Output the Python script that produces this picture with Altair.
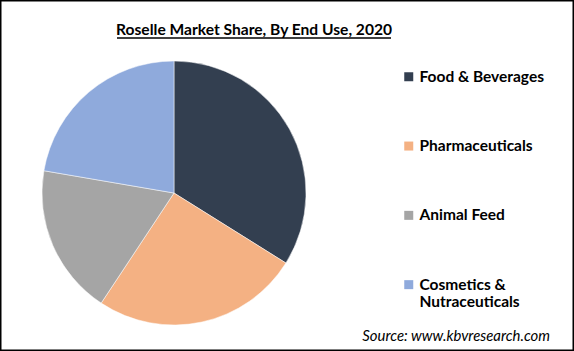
import altair as alt
import pandas as pd

categories = ["Food & Beverages", "Pharmaceuticals", "Animal Feed", "Cosmetics & Nutraceuticals"]
shares = [33.9, 25.4, 18.4, 22.3]
colors = ["#333F50", "#F4B183", "#A5A5A5", "#8FAADC"]
title_text = "Roselle  Market Share, By End Use, 2020"
source_text = "Source: www.kbvresearch.com"

df = pd.DataFrame({"category": categories, "share": shares, "order": list(range(len(categories)))})

label_expr = ("datum.label == 'Cosmetics & Nutraceuticals' ? "
              "['Cosmetics &', 'Nutraceuticals'] : datum.label")

pie = alt.Chart(df).mark_arc(radius=132, stroke="white", strokeWidth=0.5).encode(
    theta=alt.Theta("share:Q", stack=True),
    order=alt.Order("order:Q"),
    color=alt.Color(
        "category:N",
        sort=categories,
        scale=alt.Scale(domain=categories, range=colors),
        legend=alt.Legend(
            title=None, orient="none", legendX=401, legendY=69,
            symbolType="square", symbolSize=81, symbolStrokeWidth=0,
            labelFont="Lato", labelFontWeight="bold", labelFontSize=15.5,
            labelColor="black", labelOffset=3, rowPadding=52.3,
            labelExpr=label_expr, labelLimit=300,
        ),
    ),
    x=alt.value(174),
    y=alt.value(193),
)

title = alt.Chart(pd.DataFrame({"t": [title_text]})).mark_text(
    font="Lato", fontWeight="bold", fontSize=15.6, align="center", baseline="alphabetic", color="black"
).encode(text="t:N", x=alt.value(254), y=alt.value(35))

underline = alt.Chart(pd.DataFrame({"t": [title_text]})).mark_rule(color="black", strokeWidth=1.3).encode(
    x=alt.value(117), x2=alt.value(391), y=alt.value(38)
)

source = alt.Chart(pd.DataFrame({"t": [source_text]})).mark_text(
    font="Lato", fontStyle="italic", fontSize=14.9, align="right", baseline="alphabetic", color="black"
).encode(text="t:N", x=alt.value(550), y=alt.value(341))

chart = alt.layer(pie, title, underline, source).properties(
    width=574, height=351, autosize=alt.AutoSizeParams(type="none"), padding=0
).configure_view(stroke="black", strokeWidth=3)

chart.save("out.html", embed_options={"renderer": "svg", "actions": False})
